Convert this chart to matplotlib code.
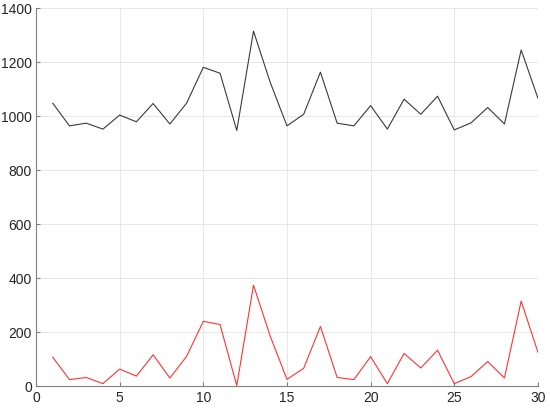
import numpy as np
import matplotlib
matplotlib.use("Agg")
import matplotlib.pyplot as plt

plt.rcParams['font.family'] = ['Liberation Sans', 'DejaVu Sans']

# data
x = list(range(1, 31))
black_vals = [1048, 964, 974, 952, 1004, 979, 1047, 971, 1048, 1181,
              1159, 947, 1315, 1125, 964, 1007, 1163, 974, 964, 1039,
              952, 1063, 1007, 1074, 949, 975, 1032, 971, 1245, 1067]
red_vals = [107, 24, 32, 9, 63, 37, 116, 30, 110, 240,
            228, 2, 374, 185, 25, 66, 221, 32, 24, 109,
            9, 121, 67, 133, 9, 35, 91, 30, 315, 126]
xticks = [0, 5, 10, 15, 20, 25, 30]
yticks = [0, 200, 400, 600, 800, 1000, 1200, 1400]

fig = plt.figure(figsize=(5.5, 4.09), dpi=100)
ax = fig.add_axes([0.0655, 0.056, 0.9125, 0.924])

ax.plot(x, black_vals, color='#3a3a3a', linewidth=0.8)
ax.plot(x, red_vals, color='#ff3333', linewidth=0.8)

ax.set_xlim(0, 30)
ax.set_ylim(0, 1400)
ax.set_xticks(xticks)
ax.set_yticks(yticks)

ax.grid(True, color='#e3e3e3', linewidth=0.6)
ax.set_axisbelow(True)

for side in ('top', 'right'):
    ax.spines[side].set_visible(False)
for side in ('left', 'bottom'):
    ax.spines[side].set_color('#7f7f7f')
    ax.spines[side].set_linewidth(0.8)

ax.tick_params(direction='in', length=3, width=0.8, color='#7f7f7f',
               labelsize=10, labelcolor='#262626')
ax.tick_params(axis='y', pad=3)

plt.savefig('out.png', dpi=100)
